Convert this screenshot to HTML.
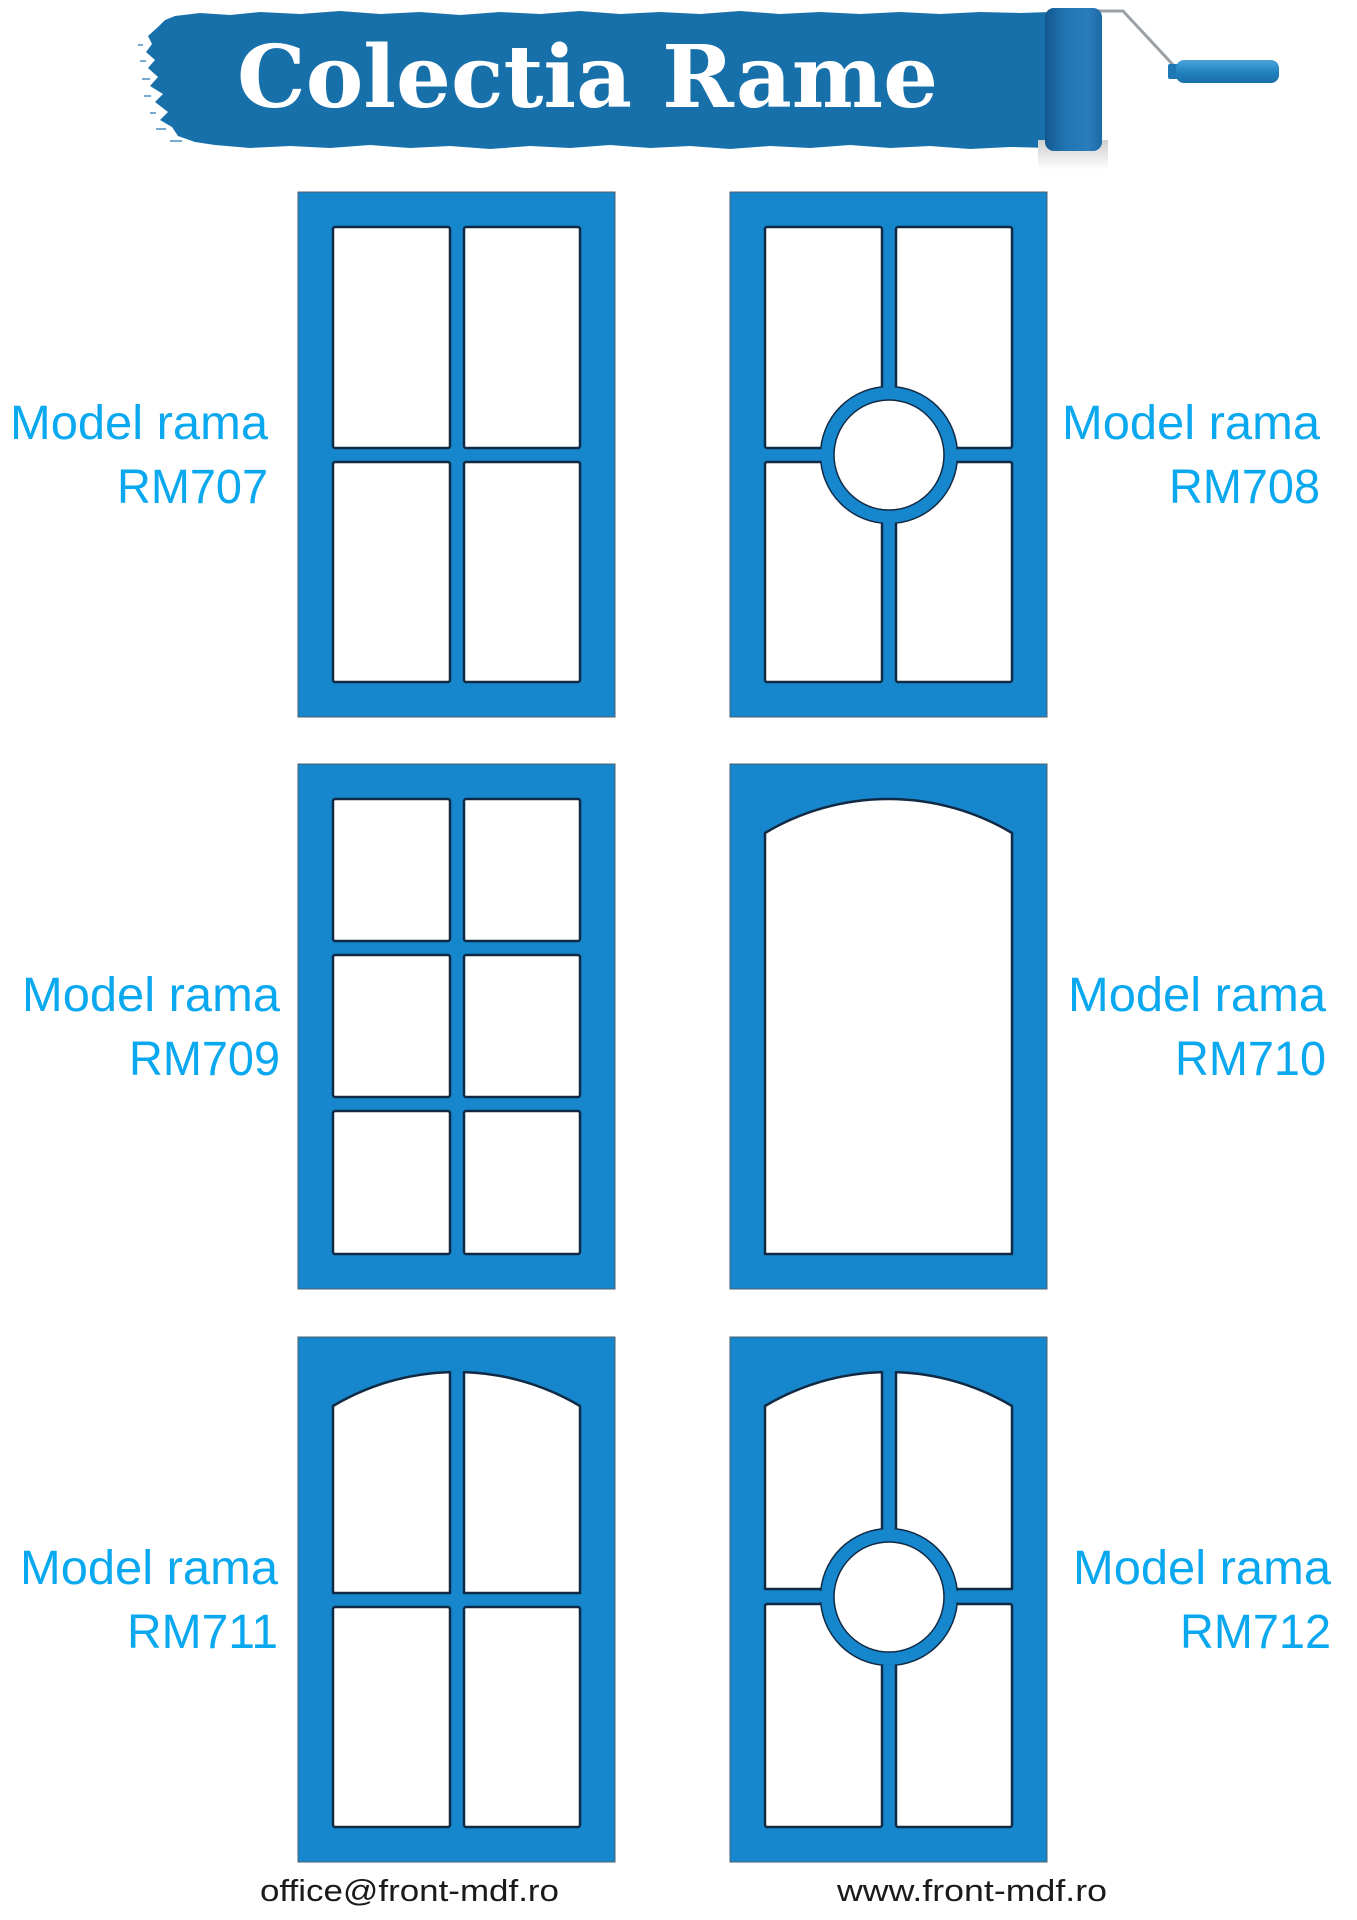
<!DOCTYPE html>
<html>
<head>
<meta charset="utf-8">
<style>
html,body{margin:0;padding:0;background:#fff;}
svg{display:block;}
</style>
</head>
<body>
<svg width="1357" height="1920" viewBox="0 0 1357 1920" xmlns="http://www.w3.org/2000/svg">
<defs>
  <linearGradient id="rollerG" x1="0" x2="1" y1="0" y2="0">
    <stop offset="0" stop-color="#12588f"/>
    <stop offset="0.35" stop-color="#2274b2"/>
    <stop offset="0.75" stop-color="#2a7dbb"/>
    <stop offset="1" stop-color="#1b6aa6"/>
  </linearGradient>
  <linearGradient id="shadowG" x1="0" x2="0" y1="0" y2="1">
    <stop offset="0" stop-color="#cfcfcf"/>
    <stop offset="1" stop-color="#ffffff"/>
  </linearGradient>
  <linearGradient id="gripG" x1="0" x2="0" y1="0" y2="1">
    <stop offset="0" stop-color="#4aa3d8"/>
    <stop offset="0.5" stop-color="#2384c2"/>
    <stop offset="1" stop-color="#1a6ea8"/>
  </linearGradient>
</defs>

<!-- Title banner brush stroke -->
<path fill="#1870ab" d="M175,16 L200,13 L230,15 L260,12 L300,14 L340,11 L380,14 L420,12 L460,15 L500,12 L540,14 L580,11 L620,14 L660,12 L700,14 L740,11 L780,14 L820,12 L860,14 L900,12 L940,14 L980,12 L1020,13 L1050,12 L1050,148 L1010,147 L970,149 L930,146 L890,148 L850,145 L810,148 L770,146 L730,149 L690,146 L650,148 L610,145 L570,148 L530,146 L490,149 L450,146 L410,148 L370,145 L330,148 L290,146 L250,148 L215,145 L195,142 L178,136 L172,127 L160,120 L168,112 L155,102 L163,94 L150,86 L158,77 L148,68 L155,60 L146,52 L152,44 L148,36 L158,27 L165,20 Z"/>
<!-- spatter -->
<g fill="#3b86bb" opacity="0.7">
  <rect x="140" y="60" width="6" height="2"/>
  <rect x="142" y="78" width="8" height="2"/>
  <rect x="144" y="95" width="7" height="2"/>
  <rect x="150" y="112" width="6" height="2"/>
  <rect x="156" y="128" width="10" height="2"/>
  <rect x="170" y="140" width="12" height="2"/>
  <rect x="138" y="44" width="5" height="2"/>
</g>

<!-- roller shadow -->
<rect x="1038" y="140" width="70" height="30" fill="url(#shadowG)"/>
<!-- wire -->
<polyline points="1096,11 1123,11 1176,68" fill="none" stroke="#9aa0a6" stroke-width="3" stroke-linejoin="round"/>
<!-- roller -->
<rect x="1045" y="8" width="57" height="143" rx="9" fill="url(#rollerG)"/>
<!-- grip -->
<rect x="1168" y="64" width="12" height="15" rx="2" fill="#1f78b6"/>
<rect x="1176" y="60" width="103" height="23" rx="8" fill="url(#gripG)"/>

<!-- Title text -->
<text x="237" y="107" font-family="'DejaVu Serif', 'Liberation Serif', serif" font-weight="bold" font-size="86" fill="#ffffff" textLength="701" lengthAdjust="spacingAndGlyphs">Colectia Rame</text>

<!-- ===== RM707 ===== -->
<g transform="translate(298,192)">
  <rect x="0" y="0" width="317" height="525" fill="#1687cd" stroke="#4f5f70" stroke-width="1"/>
  <g fill="#fff" stroke="#102a45" stroke-width="2.5" stroke-linejoin="round">
    <rect x="35" y="35" width="117" height="221" rx="2"/>
    <rect x="166" y="35" width="116" height="221" rx="2"/>
    <rect x="35" y="270" width="117" height="220" rx="2"/>
    <rect x="166" y="270" width="116" height="220" rx="2"/>
  </g>
</g>

<!-- ===== RM708 ===== -->
<g transform="translate(730,192)">
  <rect x="0" y="0" width="317" height="525" fill="#1687cd" stroke="#4f5f70" stroke-width="1"/>
  <g fill="#fff" stroke="#102a45" stroke-width="2.5" stroke-linejoin="round">
    <rect x="35" y="35" width="117" height="221" rx="2"/>
    <rect x="166" y="35" width="116" height="221" rx="2"/>
    <rect x="35" y="270" width="117" height="220" rx="2"/>
    <rect x="166" y="270" width="116" height="220" rx="2"/>
  </g>
  <circle cx="159" cy="263" r="68.5" fill="#1687cd" stroke="#102a45" stroke-width="1.5"/>
  <rect x="153.4" y="190" width="11.2" height="146" fill="#1687cd"/>
  <rect x="86" y="257.4" width="146" height="11.2" fill="#1687cd"/>
  <circle cx="159" cy="263" r="55" fill="#fff" stroke="#102a45" stroke-width="1.5"/>
</g>

<!-- ===== RM709 ===== -->
<g transform="translate(298,764)">
  <rect x="0" y="0" width="317" height="525" fill="#1687cd" stroke="#4f5f70" stroke-width="1"/>
  <g fill="#fff" stroke="#102a45" stroke-width="2.5" stroke-linejoin="round">
    <rect x="35" y="35" width="117" height="142" rx="2"/>
    <rect x="166" y="35" width="116" height="142" rx="2"/>
    <rect x="35" y="191" width="117" height="142" rx="2"/>
    <rect x="166" y="191" width="116" height="142" rx="2"/>
    <rect x="35" y="347" width="117" height="143" rx="2"/>
    <rect x="166" y="347" width="116" height="143" rx="2"/>
  </g>
</g>

<!-- ===== RM710 ===== -->
<g transform="translate(730,764)">
  <rect x="0" y="0" width="317" height="525" fill="#1687cd" stroke="#4f5f70" stroke-width="1"/>
  <path d="M35,490 L35,69 A241.3,241.3 0 0 1 282,69 L282,490 Z" fill="#fff" stroke="#102a45" stroke-width="2.5" stroke-linejoin="round"/>
</g>

<!-- ===== RM711 ===== -->
<g transform="translate(298,1337)">
  <rect x="0" y="0" width="317" height="525" fill="#1687cd" stroke="#4f5f70" stroke-width="1"/>
  <g fill="#fff" stroke="#102a45" stroke-width="2.5" stroke-linejoin="round">
    <path d="M35,256 L35,69 A241.3,241.3 0 0 1 152,35.1 L152,256 Z"/>
    <path d="M166,256 L166,35.1 A241.3,241.3 0 0 1 282,69 L282,256 Z"/>
    <rect x="35" y="270" width="117" height="220" rx="2"/>
    <rect x="166" y="270" width="116" height="220" rx="2"/>
  </g>
</g>

<!-- ===== RM712 ===== -->
<g transform="translate(730,1337)">
  <rect x="0" y="0" width="317" height="525" fill="#1687cd" stroke="#4f5f70" stroke-width="1"/>
  <g fill="#fff" stroke="#102a45" stroke-width="2.5" stroke-linejoin="round">
    <path d="M35,252 L35,69 A241.3,241.3 0 0 1 152,35.1 L152,252 Z"/>
    <path d="M166,252 L166,35.1 A241.3,241.3 0 0 1 282,69 L282,252 Z"/>
    <rect x="35" y="267" width="117" height="223" rx="2"/>
    <rect x="166" y="267" width="116" height="223" rx="2"/>
  </g>
  <circle cx="159" cy="260" r="68.5" fill="#1687cd" stroke="#102a45" stroke-width="1.5"/>
  <rect x="153.4" y="187" width="11.2" height="146" fill="#1687cd"/>
  <rect x="86" y="254" width="146" height="11.2" fill="#1687cd"/>
  <circle cx="159" cy="260" r="55" fill="#fff" stroke="#102a45" stroke-width="1.5"/>
</g>

<!-- Labels -->
<g font-family="'Liberation Sans', sans-serif" font-size="48" fill="#0aa8ef">
  <text x="10" y="439" textLength="258" lengthAdjust="spacingAndGlyphs">Model rama</text>
  <text x="117" y="503" textLength="151" lengthAdjust="spacingAndGlyphs">RM707</text>

  <text x="1062" y="439" textLength="258" lengthAdjust="spacingAndGlyphs">Model rama</text>
  <text x="1169" y="503" textLength="151" lengthAdjust="spacingAndGlyphs">RM708</text>

  <text x="22" y="1011" textLength="258" lengthAdjust="spacingAndGlyphs">Model rama</text>
  <text x="129" y="1075" textLength="151" lengthAdjust="spacingAndGlyphs">RM709</text>

  <text x="1068" y="1011" textLength="258" lengthAdjust="spacingAndGlyphs">Model rama</text>
  <text x="1175" y="1075" textLength="151" lengthAdjust="spacingAndGlyphs">RM710</text>

  <text x="20" y="1584" textLength="258" lengthAdjust="spacingAndGlyphs">Model rama</text>
  <text x="127" y="1648" textLength="151" lengthAdjust="spacingAndGlyphs">RM711</text>

  <text x="1073" y="1584" textLength="258" lengthAdjust="spacingAndGlyphs">Model rama</text>
  <text x="1180" y="1648" textLength="151" lengthAdjust="spacingAndGlyphs">RM712</text>
</g>

<!-- Footer -->
<g font-family="'Liberation Sans', sans-serif" font-size="31" fill="#1a1a1a">
  <text x="260" y="1901" textLength="299" lengthAdjust="spacingAndGlyphs">office@front-mdf.ro</text>
  <text x="837" y="1901" textLength="270" lengthAdjust="spacingAndGlyphs">www.front-mdf.ro</text>
</g>
</svg>
</body>
</html>
